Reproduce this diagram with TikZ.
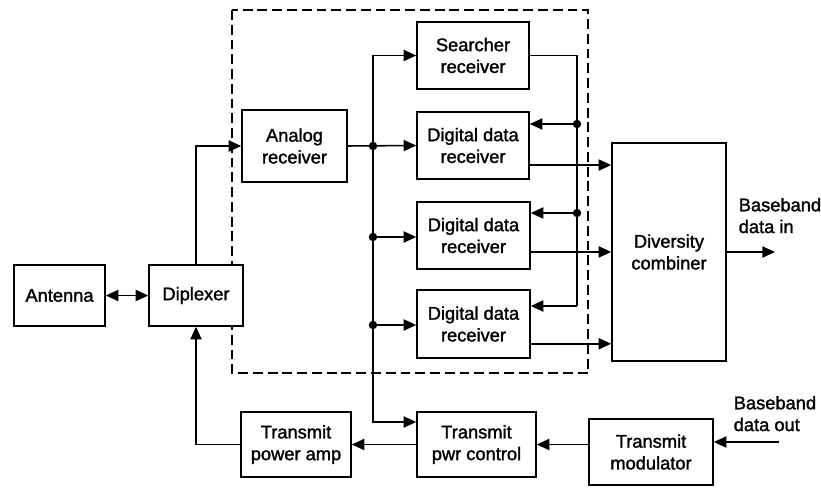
\documentclass[tikz,border=0pt]{standalone}
\usepackage{fontspec}
\setmainfont{Liberation Sans}
\newfontfamily\blkfont{Liberation Sans}[FakeBold=1.5]
\usetikzlibrary{arrows.meta}

\begin{document}
\begin{tikzpicture}[>={Triangle[length=9pt, width=8pt]}, x=0.025cm, y=-0.025cm,
        line width=1.1pt,
        txt/.style={font=\blkfont\fontsize{13pt}{15.5pt}\selectfont},
        blk/.style={draw, fill=white, align=center, inner sep=2pt, txt},
        lbl/.style={align=left, inner sep=0pt, txt},
        dot/.style={fill, circle, inner sep=0pt, minimum size=6pt}]
        \useasboundingbox (0, 0) rectangle (821, 487);

        % receiver section
        \draw[dashed, line width=1.5pt, dash pattern=on 7pt off 3.5pt] (232, 10) rectangle (588, 373);

        \node[blk, minimum width=2.275cm, minimum height=1.525cm] (ant) at (59.5, 295.5) {Antenna};
        \node[blk, minimum width=2.35cm, minimum height=1.525cm] (dip) at (196, 295.5) {Diplexer};
        \node[blk, minimum width=2.625cm, minimum height=1.8cm] (ana) at (294.5, 146) {Analog\\receiver};
        \node[blk, minimum width=2.8cm, minimum height=1.675cm] (srch) at (473, 55.5) {Searcher\\receiver};
        \node[blk, minimum width=2.8cm, minimum height=1.675cm] (ddr1) at (473, 145.5) {Digital data\\receiver};
        \node[blk, minimum width=2.825cm, minimum height=1.675cm] (ddr2) at (473.5, 235.5) {Digital data\\receiver};
        \node[blk, minimum width=2.825cm, minimum height=1.7cm] (ddr3) at (473.5, 324) {Digital data\\receiver};
        \node[blk, minimum width=2.85cm, minimum height=5.45cm] (div) at (669, 252) {Diversity\\combiner};
        \node[blk, minimum width=2.75cm, minimum height=1.625cm] (amp) at (296, 444.5) {Transmit\\power amp};
        \node[blk, minimum width=2.975cm, minimum height=1.625cm] (pwr) at (476.5, 444.5) {Transmit\\pwr control};
        \node[blk, minimum width=3.1cm, minimum height=1.65cm] (mod) at (651, 452) {Transmit\\modulator};

        % taps on the two buses
        \coordinate (j1) at (373, 146);
        \coordinate (j2) at (373, 237);
        \coordinate (j3) at (373, 325);
        \coordinate (tap) at (373, 422);
        \coordinate (k1) at (577, 124);
        \coordinate (k2) at (577, 213);
        \coordinate (k3) at (577, 306);
        \coordinate (bbin) at (775, 252);
        \coordinate (bbout) at (779, 442);

        \draw[<->] (ant) -- (dip);
        \draw[->] (dip.north) |- (ana.west);
        \draw[->] (ana.east) -- (ddr1.west);
        \draw[->] (j1) |- (srch.west);
        \draw[->] (j1) -- (tap) -- (tap -| pwr.west);
        \draw[->] (j2) -- (j2 -| ddr2.west);
        \draw[->] (j3) -- (j3 -| ddr3.west);
        \node[dot] at (j1) {};
        \node[dot] at (j2) {};
        \node[dot] at (j3) {};

        % searcher feeds the data receivers
        \draw (srch.east) -| (k3);
        \draw[->] (k1) -- (k1 -| ddr1.east);
        \draw[->] (k2) -- (k2 -| ddr2.east);
        \draw[->] (k3) -- (k3 -| ddr3.east);
        \node[dot] at (k1) {};
        \node[dot] at (k2) {};

        \draw[->] (ddr1.-19) -- (ddr1.-19 -| div.west);
        \draw[->] (ddr2.-16) -- (ddr2.-16 -| div.west);
        \draw[->] (ddr3.-19) -- (ddr3.-19 -| div.west);
        \draw[->] (div.east |- bbin) -- (bbin);
        \node[lbl, anchor=south west] at (738, 234) {Baseband\\data in};

        % transmit chain
        \draw[->] (bbout) -- (bbout -| mod.east);
        \node[lbl, anchor=south west] at (733, 432) {Baseband\\data out};
        \draw[->] (mod.west |- pwr.east) -- (pwr.east);
        \draw[->] (pwr.west) -- (amp.east);
        \draw[->] (amp.west) -| (dip.south);
    \end{tikzpicture}
\end{document}
